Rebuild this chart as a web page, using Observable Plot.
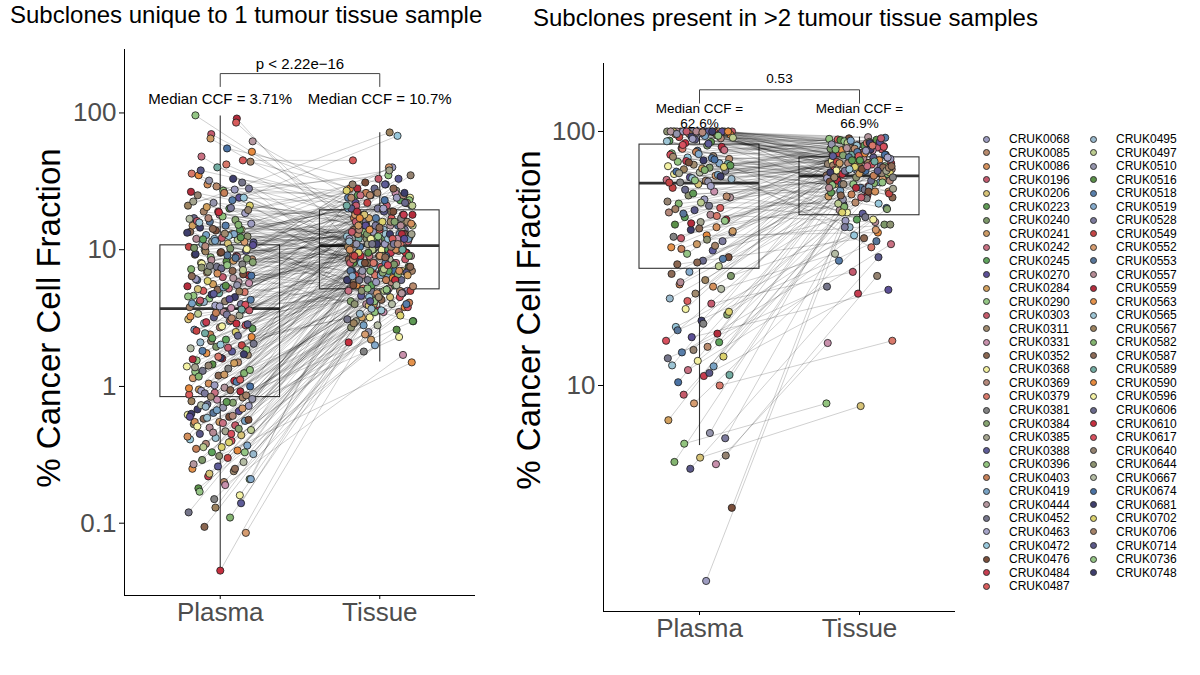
<!DOCTYPE html>
<html><head><meta charset="utf-8">
<script src="https://cdn.jsdelivr.net/npm/d3@7"></script>
<script src="https://cdn.jsdelivr.net/npm/@observablehq/plot@0.6"></script>
<style>
body{margin:0;background:#fff;font-family:"Liberation Sans",Arial,Helvetica,sans-serif;}
#root{position:relative;width:1200px;height:675px;overflow:hidden;background:#fff;}
.abs{position:absolute;}
.title{font-size:24px;line-height:24px;white-space:nowrap;color:#000;}
.ylab{font-size:33px;line-height:33px;white-space:nowrap;transform:translate(-50%,-50%) rotate(-90deg);color:#000;}
.legtxt{font-size:12px;line-height:14px;white-space:nowrap;color:#000;}
.legdot{width:7px;height:7px;border-radius:50%;box-sizing:border-box;border:0.9px solid #333;}
</style></head><body><div id="root"></div>
<script>
const FONT = '"Liberation Sans", Arial, Helvetica, sans-serif';

// ---------- categories ----------
const groups = ["Plasma", "Tissue"];
const patients = ["CRUK0068","CRUK0085","CRUK0086","CRUK0196","CRUK0206","CRUK0223","CRUK0240","CRUK0241","CRUK0242","CRUK0245","CRUK0270","CRUK0284","CRUK0290","CRUK0303","CRUK0311","CRUK0331","CRUK0352","CRUK0368","CRUK0369","CRUK0379","CRUK0381","CRUK0384","CRUK0385","CRUK0388","CRUK0396","CRUK0403","CRUK0419","CRUK0444","CRUK0452","CRUK0463","CRUK0472","CRUK0476","CRUK0484","CRUK0487",
"CRUK0495","CRUK0497","CRUK0510","CRUK0516","CRUK0518","CRUK0519","CRUK0528","CRUK0549","CRUK0552","CRUK0553","CRUK0557","CRUK0559","CRUK0563","CRUK0565","CRUK0567","CRUK0582","CRUK0587","CRUK0589","CRUK0590","CRUK0596","CRUK0606","CRUK0610","CRUK0617","CRUK0640","CRUK0644","CRUK0667","CRUK0674","CRUK0681","CRUK0702","CRUK0706","CRUK0714","CRUK0736","CRUK0748"];
const palette = ["#9d9cc0","#b88a6c","#d4905c","#c45a6e","#d6c276","#5f9a55","#7c9768","#cc9a64","#c87082","#5ea35c","#5c4f96","#d2a05e","#94c685","#c55a6a","#a08a6e","#c890ac","#8a6650","#f3f0a0","#b4887a","#d8786a","#828282","#86a470","#a4a48e","#5e5c98","#92c47e","#c68058","#78a2c4","#b4969e","#75758a","#a6a4c8","#98c8dc","#7a4e3a","#c63c50","#d85c5c",
"#98b8cc","#bccc90","#9494ac","#5a9048","#587eaa","#84aacc","#7c7a9c","#c44444","#d69c70","#58769a","#b48a94","#b42c3c","#e4924c","#9cc4d4","#9c825e","#84b470","#8c6a56","#72aca2","#e68a3e","#f4f2a4","#6a6a8c","#c62e3e","#d8505e","#948270","#8c9270","#b4bca4","#4a72a4","#3e3e6c","#dcd26e","#a48268","#5a5888","#94c484","#3e3e6c"];

// ---------- left panel: subclones unique to 1 tumour tissue sample ----------
const leftPlasma = [
96,91,70,62,55,48,45,40,36,33,30,28,27,25,24,22,21,20,19,18.5,18,17,16.5,16,15.5,15,14.5,14,13.8,13.5,13,12.8,12.5,12.2,12,11.8,11.5,11.3,11.1,11,24,19,15,13,17,21,26,35,14,12,
10.5,10.2,10,9.8,9.5,9.2,9,8.8,8.5,8.2,8,7.8,7.5,7.2,7,6.8,6.5,6.3,6,5.8,5.6,5.4,5.2,5,4.9,4.8,4.6,4.5,4.4,4.3,4.2,4.1,4,3.9,3.8,3.75,9.7,8.6,7.3,6.1,5.5,4.7,10.8,9.1,7.9,6.6,5.1,4.05,8.3,6.9,
3.6,3.5,3.4,3.3,3.2,3.1,3,2.9,2.8,2.7,2.6,2.5,2.4,2.3,2.2,2.1,2,1.95,1.9,1.8,1.75,1.7,1.6,1.55,1.5,1.45,1.4,1.35,1.3,1.25,1.2,1.15,1.1,1.05,1,0.98,0.95,0.92,0.9,0.87,3.05,2.45,1.85,1.62,1.28,1.08,2.15,2.65,3.35,0.93,
0.83,0.8,0.78,0.76,0.74,0.72,0.7,0.68,0.66,0.64,0.62,0.6,0.58,0.56,0.55,0.53,0.52,0.5,0.48,0.47,0.45,0.44,0.42,0.41,0.4,0.38,0.37,0.36,0.35,0.34,0.33,0.32,0.3,0.29,0.28,0.26,0.25,0.24,0.22,0.21,0.2,0.18,0.16,0.15,0.12,0.11,0.094,0.085,0.045,0.55,
85,65,52,42,38,31,29,26.5,23,20.5,19.5,17.5,16.2,15.2,14.2,13.3,12.6,11.9,11.4,18.8,22.5,27.5,32,44,13.1,15.8,12.3,11.6,16.8,20.2,
10.6,10.1,9.6,9.3,8.9,8.4,8.1,7.7,7.4,7.1,6.7,6.4,6.2,5.9,5.7,5.3,5.15,4.95,4.75,4.55,4.35,4.15,3.95,3.85,10.3,8.7,7.6,6.45,5.45,4.25,
3.65,3.45,3.25,3.15,2.95,2.85,2.75,2.55,2.35,2.25,2.05,1.92,1.82,1.72,1.65,1.58,1.48,1.42,1.32,1.22,1.18,1.12,1.02,0.97,0.94,0.89,0.86,2.02,1.38,2.88,
0.84,0.81,0.77,0.73,0.69,0.67,0.63,0.61,0.59,0.57,0.54,0.51,0.49,0.46,0.43,0.39,0.36,0.33,0.31,0.27,0.25,0.23,0.21,0.19,0.17,0.14,0.13,0.6,0.45,0.71];
const leftTissue = [
12,8,20,15,30,9,45,18,6,25,11,14,35,7,22,16,72,10,13,5,19,28,9.5,12,40,17,8.5,24,11,4.5,14,21,10,33,6.5,15,27,9,18,12.5,68,7.5,13,20,3.5,16,26,11,23,14,
22,9,14,30,11,6,18,12,25,8,16,10,5,19,13,40,7,21,9.5,15,4,28,11.5,17,6.5,12,23,8,14.5,10.5,35,5.5,20,13.5,7,26,9,16.5,3,24,11,18,6,15,10,31,8.5,13,19.5,12,
8,15,5,11,20,7,13,4.5,9,25,6,12,17,3.8,10,14,6.5,22,8.5,11,5.5,16,9.5,4.2,13,7.5,19,10.5,6,12.5,28,4.8,9,15.5,7,11.5,3.2,18,8,14,5.2,21,10,6.8,13.5,24,9.8,7.2,16,12,
5,3.5,8,4.2,6,11,2.5,7,4.8,9,3.2,5.5,13,6.5,2.2,4,8.5,5.2,10,3,6.8,4.5,7.5,15,3.8,5.8,2,9.5,4.1,6.2,12,3.4,5,7.8,2.8,4.6,1.5,6,3.6,8,5.4,2.6,4.4,1.8,3.1,6.6,4.3,2.4,2.1,7,
9,15,28,11,19,6,24,13,8,17,30,10,21,7,14,26,12,5.5,18,9.5,38,13.5,11,22,16,8,25,12,4,15,
14,7.5,19,11,25,9,16,12.5,5,21,10,14.5,8,27,12,6.5,18,10.5,33,9,15,11.5,4.5,20,13,7,17,23,9.5,13.5,
10,6,14,8.5,18,5,12,9,22,7,11,16,4,13,8,19,6.5,10.5,3.5,15,9,12,5.8,17,7.5,11,26,8,13,6,
4.5,7,3,5.5,9,2.8,6,11,3.6,8,5,2.3,6.8,4,10,3.3,7.2,5.2,2.7,4.8,8.8,3.9,6.4,1.7,5.1,4.2,2.9,12,7.7,3.7];
const leftPatient = [
12,45,3,27,60,8,33,51,19,66,2,40,24,57,10,36,48,5,63,29,15,54,21,43,0,38,61,17,31,50,7,26,58,13,44,35,22,64,4,47,30,56,11,39,18,62,25,52,9,34,
41,6,59,23,46,14,32,65,1,37,53,20,28,49,16,42,55,3,60,27,11,45,8,33,19,51,24,66,12,38,57,5,40,29,63,15,48,21,54,0,36,61,10,43,17,31,50,26,7,58,
13,44,35,22,64,4,47,30,56,18,39,62,25,52,9,34,41,6,59,23,46,14,32,65,1,37,53,20,28,49,16,42,55,2,60,27,11,45,8,33,19,51,24,66,12,38,57,5,40,29,
63,15,48,21,54,0,36,61,10,43,17,31,50,26,7,58,13,44,35,22,64,4,47,30,56,18,39,62,25,52,9,34,41,6,59,23,46,14,32,65,1,37,53,20,28,49,16,42,55,2,
33,7,52,19,64,28,1,45,38,11,57,24,3,49,16,61,30,9,42,55,22,0,36,63,14,47,5,26,59,40,
18,53,31,66,8,44,21,12,58,35,2,50,27,62,15,39,4,48,23,65,10,34,56,29,6,43,20,60,37,13,
51,25,46,1,32,64,17,41,54,9,28,3,38,61,19,45,11,57,24,7,49,33,0,52,16,40,63,30,22,55,
14,36,5,59,42,26,66,18,47,31,8,53,21,44,2,62,35,12,58,27,50,4,39,15,65,23,48,10,56,34];
// box statistics (Plasma, Tissue)
const leftLo  = [0.045, 1.51];
const leftQ1  = [0.836, 5.13];
const leftMed = [3.71, 10.7];
const leftQ3  = [10.76, 19.4];
const leftHi  = [95, 71.5];
const leftTest = "p < 2.22e\u221216";
const leftTicks = [0.1, 1, 10, 100];
const leftTickLabels = ["0.1", "1", "10", "100"];

// ---------- right panel: subclones present in >2 tumour tissue samples ----------
const rightPlasma = [
100,100,100,100,100,100,100,100,100,100,100,100,100,100,100,100,100,100,100,100,100,100,99,98,97,96,95,94,93,92,91,90,99.5,98.5,97.5,96.5,95.5,94.5,
88,86,85,84,82,80,79,78,77,76,75,74,73,72,71,70,69,68,67,66,65,64,63,87,83,81,78.5,76.5,74.5,71.5,69.5,67.5,65.5,64.5,63.5,85.5,72.5,
62,60,58,56,55,54,52,50,49,48,47,46,45,44,43,42,41,40,39,38,37,36,35,34,33,32,31,30,29.5,57,53,51,47.5,44.5,41.5,38.5,35.5,
28,27,26,25,24,23,22,21,20,19,18,17,16,15.5,15,14.2,13.5,13,12.5,12,11.9,11.5,11,10.9,10.3,10,8.5,7.3,6.5,5.9,5.3,5.2,5,4.9,4.7,3.3,1.7,25.5,
100,100,100,100,100,100,99.2,97.8,96.2,93.5,91.5,89.5,
88.5,84.5,81.5,79.5,77.5,75.5,73.5,70.5,68.5,66.5,64.2,62.9,
61,59,55.5,52.5,49.5,46.5,43.5,40.5,37.5,34.5,31.5,30.5,
27.5,24.5,21.5,19.5,17.5,16.5,14.8,13.8,12.8,11.2,9.2,6.2];
const rightTissue = [
88,92,76,85,70,94,81,66,90,78,83,73,95,87,62,80,91,74,84,68,89,77,93,58,86,71,82,64,79,45,92.5,75,88.5,69,84.5,55,90.5,72,
80.5,67.2,86.5,60,91.5,74.5,52,82.5,69.5,93.5,63,77.5,48,85.5,71.5,59,89.5,76.5,65,83.5,42,73.5,87.5,56,79.5,70.5,94.5,61,81.5,67.5,50,75.5,86.2,64.5,78.5,35,72.5,
74,57,84.2,66,49,78,62.5,88.2,53,71,44,80,68,59.5,92.8,76,51.5,65.5,40,82,70,55.5,77,47.5,87,63.5,73,38,90.2,57.5,68.5,46,79.2,61.5,72.2,54.5,86,
67.8,43,75.2,56.5,33,81,60.5,28,70.2,49.5,85,39,64,23.8,74.2,52.5,31,69,45,88,58.5,36,76.2,23,62,15,41,68.2,54,8.5,27,8.3,50.5,14.7,32,71.2,44.5,60,
91,78.5,86,69,94,82,75,89,63,84,71,80,
87,73,92,66,81,58,77,85,70,90,62,76,
79,64,85.5,52,72,88,60,75,43,67,83,56,
73,58,80,48,66,37,77,62,24.5,70,55,42];
const rightPatient = [
5,22,47,13,60,31,8,54,19,40,2,65,27,44,11,36,58,23,0,49,15,62,33,7,52,26,41,18,64,9,37,55,4,29,46,16,61,35,
21,50,3,43,12,57,30,1,66,24,39,14,53,6,48,28,59,17,42,10,34,63,20,45,25,56,38,32,51,11,60,26,47,8,36,19,62,
4,41,15,58,27,0,49,33,64,18,44,9,55,22,37,2,61,29,52,13,40,7,46,23,65,31,54,16,35,5,57,28,43,12,50,20,63,
39,6,48,25,59,14,34,3,53,21,66,30,45,10,56,1,38,62,17,47,26,8,51,32,60,19,42,11,36,24,57,4,49,15,64,31,0,44,
10,44,27,61,3,52,18,36,65,0,47,23,56,8,39,14,60,31,5,49,22,66,12,41,29,54,1,35,63,19,45,7,58,25,38,16,50,2,33,62,20,43,9,57,28,64,13,40];
const rightLo  = [5.8, 22.8];
const rightQ1  = [28.8, 46.8];
const rightMed = [62.6, 66.9];
const rightQ3  = [88.8, 79.1];
const rightHi  = [100, 95];
const rightTest = "0.53";
const rightTicks = [10, 100];
const rightTickLabels = ["10", "100"];

// ---------- drawing ----------
function jitA(i) { return ((i * 0.6180339887 + 0.13) % 1 - 0.5) * 0.42; }
function jitB(i) { return ((i * 0.7548776662 + 0.57) % 1 - 0.5) * 0.42; }

function makePanel(cfg) {
  const n = Math.min(cfg.plasma.length, cfg.tissue.length, cfg.pid.length);
  const pairs = d3.range(n).map(i => ({
    p: cfg.plasma[i], t: cfg.tissue[i], id: patients[cfg.pid[i]],
    xp: 1 + jitA(i), xt: 2 + jitB(i)
  }));
  const pts = pairs.flatMap(d => [{x: d.xp, y: d.p, id: d.id}, {x: d.xt, y: d.t, id: d.id}]);
  const box = groups.map((g, k) => ({g: k + 1, lo: cfg.lo[k], q1: cfg.q1[k], med: cfg.med[k], q3: cfg.q3[k], hi: cfg.hi[k]}));
  const tickMap = new Map(cfg.ticks.map((t, k) => [t, cfg.tickLabels[k]]));
  const hw = 0.375;
  const bracket = [
    {x1: 1, x2: 1, y1: cfg.dropY, y2: cfg.brY},
    {x1: 1, x2: 2, y1: cfg.brY, y2: cfg.brY},
    {x1: 2, x2: 2, y1: cfg.brY, y2: cfg.dropY}
  ];
  const bs = {stroke: "#333", strokeWidth: 1.1};
  return Plot.plot({
    width: cfg.width, height: 660,
    marginLeft: cfg.ml, marginRight: cfg.mr, marginTop: cfg.mt, marginBottom: cfg.mb,
    style: {fontFamily: FONT, background: "transparent", overflow: "visible", color: "#000"},
    x: {domain: [0.4, 2.6], axis: null},
    y: {type: "log", domain: cfg.domain, axis: null},
    color: {domain: patients, range: palette},
    marks: [
      Plot.rect(box, {x1: d => d.g - hw, x2: d => d.g + hw, y1: "q1", y2: "q3", fill: "none", ...bs}),
      Plot.ruleX(box, {x: "g", y1: "q3", y2: "hi", ...bs}),
      Plot.ruleX(box, {x: "g", y1: "lo", y2: "q1", ...bs}),
      Plot.ruleY(box, {y: "med", x1: d => d.g - hw, x2: d => d.g + hw, stroke: "#333", strokeWidth: 2.6}),
      Plot.link(pairs, {x1: "xp", y1: "p", x2: "xt", y2: "t", stroke: "#000", strokeOpacity: 0.19, strokeWidth: 1}),
      Plot.dot(pts, {x: "x", y: "y", r: 3.6, fill: "id", stroke: "#1a1a1a", strokeWidth: 0.8}),
      Plot.link(bracket, {x1: "x1", x2: "x2", y1: "y1", y2: "y2", stroke: "#444", strokeWidth: 1}),
      Plot.text([cfg.test], {x: 1.5, y: cfg.testY, text: d => d, fontSize: cfg.annFont, fill: "#000"}),
      Plot.text(box, {x: "g", y: cfg.medY, text: d => cfg.medText(d.med), fontSize: cfg.annFont, lineHeight: cfg.lh, fill: "#000"}),
      Plot.axisY({ticks: cfg.ticks, tickSize: 5, tickFormat: () => "", color: "#000", label: null}),
      Plot.axisY({ticks: cfg.ticks, tickSize: 0, tickPadding: 8, tickFormat: d => tickMap.get(d), fontSize: 26, color: "#4d4d4d", label: null}),
      Plot.axisX({ticks: [1, 2], tickSize: 4, tickFormat: () => "", color: "#000", label: null}),
      Plot.axisX({ticks: [1, 2], tickSize: 0, tickPadding: 7, tickFormat: d => groups[d - 1], fontSize: 26, color: "#4d4d4d", label: null}),
      Plot.ruleX([0.4], {stroke: "#000"}),
      Plot.ruleY([cfg.domain[0]], {stroke: "#000"})
    ]
  });
}

const root = document.getElementById("root");

const left = makePanel({
  plasma: leftPlasma, tissue: leftTissue, pid: leftPatient,
  lo: leftLo, q1: leftQ1, med: leftMed, q3: leftQ3, hi: leftHi,
  ticks: leftTicks, tickLabels: leftTickLabels, test: leftTest,
  domain: [0.0296, 291], width: 490, ml: 124, mr: 15, mt: 49, mb: 65,
  brY: 194, dropY: 155, testY: 227, medY: 125.4, annFont: 15, lh: 1,
  medText: v => `Median CCF = ${v}%`
});
left.style.position = "absolute"; left.style.left = "0px"; left.style.top = "0px";
root.appendChild(left);

const right = makePanel({
  plasma: rightPlasma, tissue: rightTissue, pid: rightPatient,
  lo: rightLo, q1: rightQ1, med: rightMed, q3: rightQ3, hi: rightHi,
  ticks: rightTicks, tickLabels: rightTickLabels, test: rightTest,
  domain: [1.289, 185.2], width: 470, ml: 113, mr: 5, mt: 63, mb: 49,
  brY: 145.9, dropY: 128.9, testY: 161.3, medY: 115, annFont: 13.5, lh: 1.1,
  medText: v => `Median CCF =\n${v}%`
});
right.style.position = "absolute"; right.style.left = "490px"; right.style.top = "0px";
root.appendChild(right);

function addDiv(cls, text, css) {
  const d = document.createElement("div");
  d.className = "abs " + cls;
  d.textContent = text;
  Object.assign(d.style, css);
  root.appendChild(d);
  return d;
}
addDiv("title", "Subclones unique to 1 tumour tissue sample", {left: "10px", top: "3px"});
addDiv("title", "Subclones present in >2 tumour tissue samples", {left: "533px", top: "6px"});
addDiv("ylab", "% Cancer Cell Fraction", {left: "48px", top: "318px"});
addDiv("ylab", "% Cancer Cell Fraction", {left: "528px", top: "320px"});

// legend
patients.forEach((p, k) => {
  const col = k < 34 ? 0 : 1;
  const row = col ? k - 34 : k;
  const cx = col ? 1093 : 986;
  const cy = 139 + row * 13.55;
  addDiv("legdot", "", {left: (cx - 3.5) + "px", top: (cy - 3.5) + "px", background: palette[k]});
  addDiv("legtxt", p, {left: (cx + 23) + "px", top: (cy - 7) + "px"});
});
</script></body></html>
